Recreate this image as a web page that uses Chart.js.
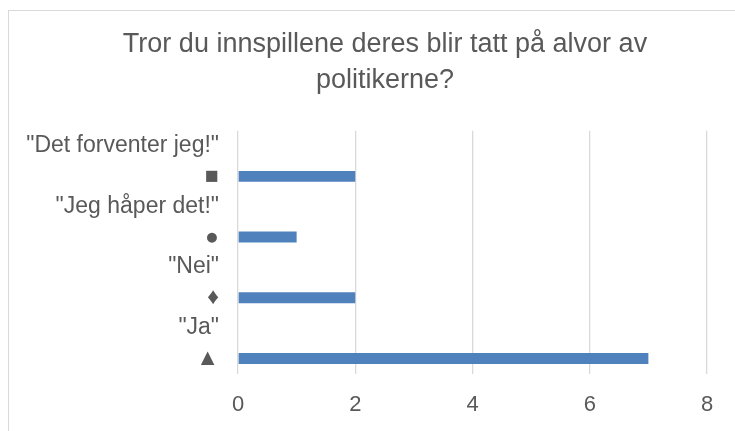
<!DOCTYPE html>
<html>
<head>
<meta charset="utf-8">
<script src="https://cdn.jsdelivr.net/npm/chart.js@4/dist/chart.umd.min.js"></script>
<style>
  html, body { margin: 0; padding: 0; background: #fff; overflow: hidden; }
  #frame {
    position: absolute; left: 8px; top: 10px;
    width: 752px; height: 440px;
    border: 1px solid #d9d9d9;
  }
  #frame canvas { display: block; }
</style>
</head>
<body>
<div id="frame"><canvas id="myChart" width="752" height="440"></canvas></div>
<script>
// categories (label + symbol under it)
var answers = ['"Det forventer jeg!"', '"Jeg håper det!"', '"Nei"', '"Ja"'];
var symbols = ["■", "●", "♦", "▲"];
// number of replies per answer
var counts = [2, 1, 2, 7];
// empty series that sits above each bar in the original sheet
var emptySeries = [null, null, null, null];
var xTicks = [0, 2, 4, 6, 8];

var labels = answers.map(function(a, i) { return [a, symbols[i]]; });
var grey = "#595959";

var ctx = document.getElementById("myChart").getContext("2d");
new Chart(ctx, {
  type: "bar",
  data: {
    labels: labels,
    datasets: [
      {
        label: "",
        data: emptySeries,
        backgroundColor: "#4F81BD"
      },
      {
        label: "Antall",
        data: counts,
        backgroundColor: "#4F81BD"
      }
    ]
  },
  options: {
    indexAxis: "y",
    responsive: false,
    animation: false,
    datasets: {
      bar: { categoryPercentage: 1, barPercentage: 0.36 }
    },
    layout: {
      padding: { left: 0, right: 0, top: 0, bottom: 15 }
    },
    plugins: {
      legend: { display: false },
      tooltip: { enabled: false },
      title: {
        display: true,
        text: ["Tror du innspillene deres blir tatt på alvor av", "politikerne?"],
        color: grey,
        font: { family: "Liberation Sans", size: 27, weight: "normal", lineHeight: 1.33 },
        padding: { top: 16, bottom: 32 }
      }
    },
    scales: {
      x: {
        min: 0,
        max: 8,
        afterBuildTicks: function(scale) {
          scale.ticks = xTicks.map(function(v) { return { value: v }; });
        },
        grid: { color: "#d9d9d9", lineWidth: 1.3, drawTicks: false },
        border: { display: false },
        ticks: {
          color: grey,
          padding: 18,
          font: { family: "Liberation Sans", size: 22 }
        }
      },
      y: {
        grid: { display: false, drawTicks: false },
        border: { display: false },
        afterFit: function(scale) { scale.width = 229; },
        ticks: {
          color: grey,
          padding: 19,
          autoSkip: false,
          font: { family: "Liberation Sans", size: 23, lineHeight: 1.35 }
        }
      },
      // blank strip on the right, keeps the title centred on the whole chart
      yRight: {
        type: "linear",
        position: "right",
        grid: { display: false, drawTicks: false },
        border: { display: false },
        ticks: { display: false },
        afterFit: function(scale) { scale.width = 54; }
      }
    }
  }
});
</script>
</body>
</html>
